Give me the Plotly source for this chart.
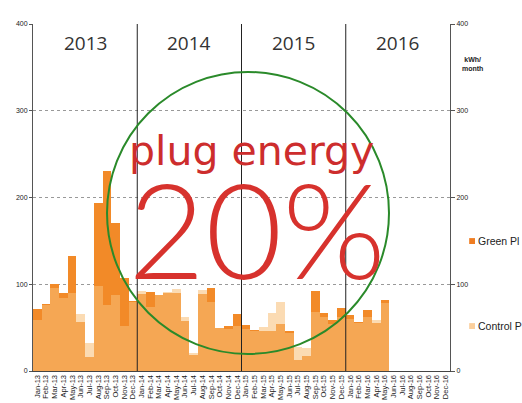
import plotly.graph_objects as go

months = [
    "Jan-13", "Feb-13", "Mar-13", "Apr-13", "May-13", "Jun-13", "Jul-13", "Aug-13", "Sep-13", "Oct-13", "Nov-13", "Dec-13",
    "Jan-14", "Feb-14", "Mar-14", "Apr-14", "May-14", "Jun-14", "Jul-14", "Aug-14", "Sep-14", "Oct-14", "Nov-14", "Dec-14",
    "Jan-15", "Feb-15", "Mar-15", "Apr-15", "May-15", "Jun-15", "Jul-15", "Aug-15", "Sep-15", "Oct-15", "Nov-15", "Dec-15",
    "Jan-16", "Feb-16", "Mar-16", "Apr-16", "May-16", "Jun-16", "Jul-16", "Aug-16", "Sep-16", "Oct-16", "Nov-16", "Dec-16",
]
years = ["2013", "2014", "2015", "2016"]

green_plug = [
    72, 77, 100, 90, 133, 57, 16, 194, 230, 171, 107, 81,
    89, 91, 88, 90, 90, 58, 19, 89, 96, 50, 52, 66,
    53, 47, 46, 46, 54, 46, 13, 17, 92, 67, 59, 73,
    64, 56, 70, 55, 82, None, None, None, None, None, None, None,
]
control_plug = [
    59, 76, 96, 84, 90, 66, 32, 98, 76, 88, 52, 80,
    92, 74, 88, 91, 94, 62, 21, 93, 79, 50, 48, 52,
    48, 46, 51, 67, 79, 44, 28, 27, 68, 62, 54, 62,
    60, 55, 62, 59, 78, None, None, None, None, None, None, None,
]
y_ticks = [0, 100, 200, 300, 400]

TICK_FONT = dict(family="Arial, Liberation Sans, sans-serif", size=7, color="#222")
X_TICK_FONT = dict(family="Arial, Liberation Sans, sans-serif", size=7.5, color="#222")

fig = go.Figure()
fig.add_trace(go.Bar(
    x=months, y=green_plug, name="Green Plug",
    marker=dict(color="rgb(242,138,40)", line=dict(width=0)),
    showlegend=False,
))
fig.add_trace(go.Bar(
    x=months, y=control_plug, name="Control Plug",
    marker=dict(color="rgb(248,190,120)", opacity=0.56, line=dict(width=0)),
    showlegend=False,
))
fig.add_trace(go.Scatter(
    x=[months[0]], y=[0], yaxis="y2", mode="markers",
    marker=dict(opacity=0), showlegend=False, hoverinfo="skip",
))

shapes = []
# year separators
for i in range(1, len(years)):
    shapes.append(dict(type="line", xref="x", yref="paper", x0=12 * i - 0.5, x1=12 * i - 0.5,
                       y0=0, y1=1, line=dict(color="#222", width=1), layer="above"))
# circle
shapes.append(dict(type="circle", xref="paper", yref="paper",
                   x0=0.1775, x1=0.8537, y0=0.049, y1=0.8617,
                   line=dict(color="#2a8a2a", width=2), layer="above"))
# legend squares
shapes.append(dict(type="rect", xref="paper", yref="paper",
                   x0=1.046, x1=1.060, y0=0.366, y1=0.383,
                   fillcolor="rgb(239,125,34)", line=dict(width=0)))
shapes.append(dict(type="rect", xref="paper", yref="paper",
                   x0=1.046, x1=1.060, y0=0.121, y1=0.138,
                   fillcolor="rgb(251,207,156)", line=dict(width=0)))

annotations = []
for i, yr in enumerate(years):
    annotations.append(dict(x=12 * i + 5.5, y=378, xref="x", yref="y", text=yr, showarrow=False,
                            font=dict(family="Open Sans, sans-serif", size=19, color="#333"),
                            xanchor="center", yanchor="middle"))
annotations.append(dict(x=0.523, y=0.633, xref="paper", yref="paper", text="plug energy", showarrow=False,
                        font=dict(family="DejaVu Sans, sans-serif", size=41, color="rgb(205,45,45)"),
                        xanchor="center", yanchor="middle"))
annotations.append(dict(x=0.536, y=0.413, xref="paper", yref="paper", text="20%", showarrow=False,
                        font=dict(family="Lato, sans-serif", size=133, color="rgb(215,50,45)", weight=300),
                        xanchor="center", yanchor="middle"))
annotations.append(dict(x=1.053, y=0.885, xref="paper", yref="paper", text="<b>kWh/<br>month</b>", showarrow=False,
                        font=dict(family="Arial, Liberation Sans, sans-serif", size=7, color="#222"),
                        xanchor="center", yanchor="middle", align="center"))
annotations.append(dict(x=1.062, y=0.3745, xref="paper", yref="paper", text="Green Pl", showarrow=False,
                        font=dict(family="Arial, Liberation Sans, sans-serif", size=10.5, color="#222"),
                        xanchor="left", yanchor="middle"))
annotations.append(dict(x=1.062, y=0.1295, xref="paper", yref="paper", text="Control P", showarrow=False,
                        font=dict(family="Arial, Liberation Sans, sans-serif", size=10.5, color="#222"),
                        xanchor="left", yanchor="middle"))

fig.update_layout(
    width=522, height=403,
    margin=dict(l=33, r=72, t=24, b=32, autoexpand=False),
    paper_bgcolor="white", plot_bgcolor="white",
    barmode="overlay", bargap=0,
    xaxis=dict(type="category", categoryorder="array", categoryarray=months,
               tickmode="array", tickvals=months, ticktext=months,
               range=[-0.5, 47.5], tickangle=-90, tickfont=X_TICK_FONT, automargin=False,
               showline=True, linecolor="#444", linewidth=1, ticks="", showgrid=False,
               fixedrange=True),
    yaxis=dict(range=[0, 400], tickvals=y_ticks, tickfont=TICK_FONT, automargin=False,
               showgrid=True, gridcolor="#999", griddash="dot", gridwidth=1,
               showline=True, linecolor="#555", linewidth=1, ticks="outside", ticklen=3,
               tickcolor="#555", zeroline=False),
    yaxis2=dict(range=[0, 400], tickvals=y_ticks, tickfont=TICK_FONT, overlaying="y", side="right",
                automargin=False,
                showgrid=False, showline=True, linecolor="#555", linewidth=1, ticks="outside",
                ticklen=4, tickcolor="#555", zeroline=False),
    shapes=shapes,
    annotations=annotations,
    showlegend=False,
)

fig.write_html("out.html", config={"displayModeBar": False},
               post_script="document.body.style.margin='0px';")
